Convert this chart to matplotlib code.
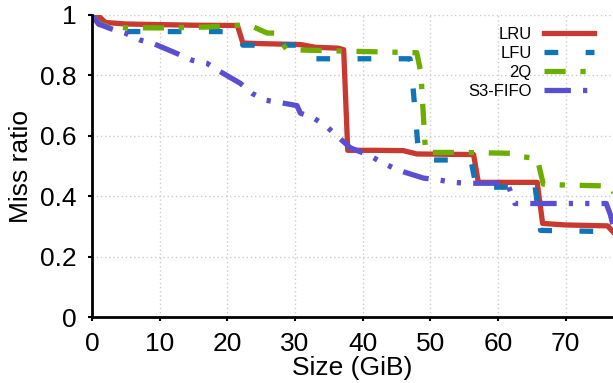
import matplotlib
matplotlib.use("Agg")
import matplotlib.pyplot as plt

plt.rcParams['font.family'] = ['Liberation Sans', 'DejaVu Sans']

lru_x = [0, 0.8, 2, 5, 10, 15, 21.5, 22.3, 25, 30.8, 33, 36.4, 37.2, 37.8, 42, 46, 48, 52, 56.4, 57.1, 60, 65.8, 66.6, 70, 76.2, 77.5]
lru_y = [1.0, 1.0, 0.975, 0.97, 0.968, 0.966, 0.965, 0.907, 0.905, 0.902, 0.893, 0.89, 0.885, 0.552, 0.552, 0.551, 0.54, 0.539, 0.538, 0.446, 0.446, 0.446, 0.31, 0.305, 0.302, 0.27]

lfu_x = [0, 1, 3, 21.5, 22.3, 31, 32.5, 47, 47.3, 48.2, 49.3, 56, 56.8, 65.5, 66.3, 76, 77.5]
lfu_y = [1.0, 0.97, 0.945, 0.945, 0.9, 0.9, 0.855, 0.855, 0.8, 0.56, 0.52, 0.52, 0.43, 0.43, 0.287, 0.283, 0.26]

q2_x = [0, 1, 3, 10, 17, 22.5, 23.4, 25.9, 27, 28.8, 38, 48.0, 48.6, 49.3, 55, 62, 63.8, 65.8, 66.7, 70, 76.5, 77.5]
q2_y = [1.0, 0.97, 0.958, 0.957, 0.96, 0.967, 0.965, 0.94, 0.94, 0.885, 0.88, 0.875, 0.81, 0.545, 0.545, 0.542, 0.53, 0.525, 0.44, 0.437, 0.434, 0.40]

s3_x = [0, 1, 2.7, 4.9, 7.1, 9, 12.6, 14.8, 17, 18.6, 21.9, 23.7, 25.6, 27.8, 30.3, 30.8, 32.7, 34.7, 36.4, 38.2, 41, 43, 45.3, 49, 51, 53.3, 55.5, 61.4, 62.5, 66.3, 76, 76.6, 77.5]
s3_y = [1.0, 0.97, 0.955, 0.94, 0.917, 0.906, 0.872, 0.85, 0.84, 0.817, 0.774, 0.74, 0.718, 0.71, 0.70, 0.675, 0.66, 0.63, 0.596, 0.56, 0.535, 0.51, 0.486, 0.46, 0.455, 0.446, 0.443, 0.443, 0.376, 0.376, 0.376, 0.34, 0.26]

labels = ["LRU", "LFU", "2Q", "S3-FIFO"]
colors = ["#c8392f", "#0f74b8", "#6cae00", "#5b4fd1"]

fig = plt.figure(figsize=(6.13, 3.83), dpi=100)
ax = fig.add_axes([0.150, 0.172, 0.850, 0.789])

lw = 3.8
ax.plot(lru_x, lru_y, color=colors[0], lw=lw, label=labels[0], solid_joinstyle='round')
ax.plot(lfu_x, lfu_y, color=colors[1], lw=lw, label=labels[1], dashes=(2.6, 5.2))
ax.plot(q2_x, q2_y, color=colors[2], lw=lw, label=labels[2], dashes=(4, 2.8, 1, 2.8))
ax.plot(s3_x, s3_y, color=colors[3], lw=lw, label=labels[3], dashes=(5, 2.3, 0.8, 2.3, 0.8, 2.3))

ax.set_xlim(0, 77)
ax.set_ylim(0, 1.0)
ax.set_xticks([0, 10, 20, 30, 40, 50, 60, 70])
ax.set_yticks([0, 0.2, 0.4, 0.6, 0.8, 1.0])
ax.set_yticklabels(["0", "0.2", "0.4", "0.6", "0.8", "1"])
ax.tick_params(labelsize=19, length=3, width=1.5, direction='out')
ax.tick_params(axis='x', pad=8)
ax.tick_params(axis='y', pad=8)
ax.grid(True, color='#cccccc', linestyle=(0, (1, 2)), lw=1)
for s in ['top', 'right']:
    ax.spines[s].set_visible(False)
for s in ['left', 'bottom']:
    ax.spines[s].set_linewidth(2)
ax.set_xlabel("Size (GiB)", fontsize=19, labelpad=0)
ax.set_ylabel("Miss ratio", fontsize=19, labelpad=5)

leg = ax.legend(loc='upper right', bbox_to_anchor=(0.985, 1.0), frameon=False, fontsize=12,
                markerfirst=False, handlelength=3.0, labelspacing=0.25, handletextpad=0.72,
                borderaxespad=0.3)

fig.savefig("out.png", dpi=100)
